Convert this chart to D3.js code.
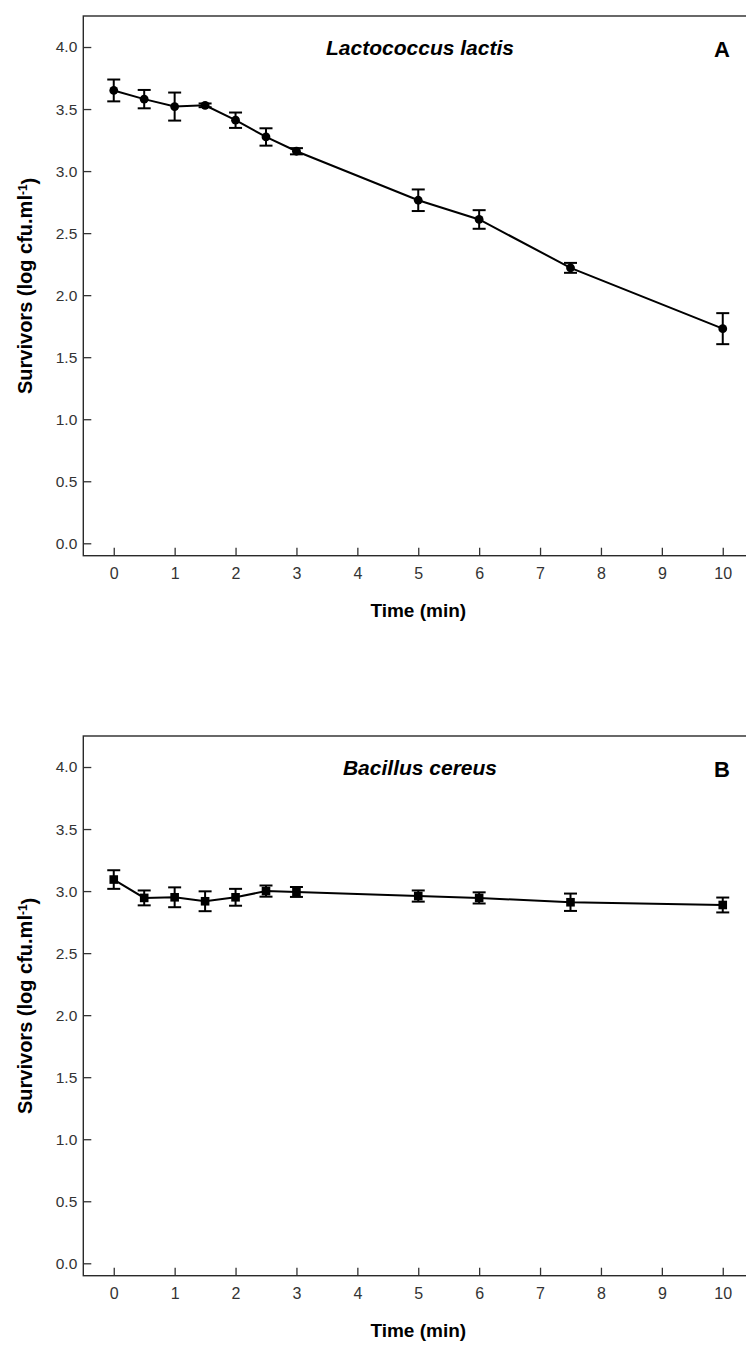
<!DOCTYPE html>
<html><head><meta charset="utf-8">
<script src="https://cdn.jsdelivr.net/npm/d3@7"></script>
<style>body{margin:0;background:#fff} svg{display:block} text{font-family:Arial,"Liberation Sans",sans-serif}</style>
</head><body><svg id="c" width="746" height="1349"></svg>
<script>
// ---- data ----
const times = [0, 0.5, 1, 1.5, 2, 2.5, 3, 5, 6, 7.5, 10];
const survivorsA = [3.65, 3.58, 3.52, 3.53, 3.41, 3.275, 3.16, 2.765, 2.61, 2.22, 1.73];
const errorsA    = [0.088, 0.074, 0.113, 0.015, 0.062, 0.07, 0.025, 0.087, 0.075, 0.04, 0.125];
const survivorsB = [3.093, 2.945, 2.95, 2.918, 2.95, 3.0, 2.993, 2.96, 2.945, 2.91, 2.888];
const errorsB    = [0.075, 0.06, 0.08, 0.08, 0.068, 0.045, 0.04, 0.045, 0.045, 0.07, 0.06];
const xTicks = [0, 1, 2, 3, 4, 5, 6, 7, 8, 9, 10];
const yTicks = [0, 0.5, 1.0, 1.5, 2.0, 2.5, 3.0, 3.5, 4.0];
const panelTitles = ["Lactococcus lactis", "Bacillus cereus"];
const panelLetters = ["A", "B"];
const xTitle = "Time (min)";

const svg = d3.select("#c");
const L = 83.3, R = 753.2, T = 16, B = 555.7;
const x = d3.scaleLinear().domain([-0.5, 10.5]).range([L, R]);
const y = d3.scaleLinear().domain([-0.1, 4.25]).range([B, T]);

function panel(offset, vals, errs, marker, title, letter) {
  const g = svg.append("g").attr("transform", `translate(0,${offset})`);
  // axes
  const ya = g.append("g").attr("transform", `translate(${L},0)`)
    .call(d3.axisLeft(y).tickValues(yTicks).tickFormat(d3.format(".1f")).tickSizeInner(-8).tickSizeOuter(0).tickPadding(6));
  const xa = g.append("g").attr("transform", `translate(0,${B})`)
    .call(d3.axisBottom(x).tickValues(xTicks).tickFormat(d3.format("d")).tickSizeInner(-8).tickSizeOuter(0).tickPadding(12));
  [ya, xa].forEach(a => {
    a.select(".domain").remove();
    a.selectAll(".tick line").attr("stroke", "#333").attr("stroke-width", 1.3);
    a.selectAll(".tick text").attr("fill", "#333").style("font-family", "Arial, 'Liberation Sans', sans-serif");
  });
  ya.selectAll(".tick text").style("font-size", "15.5px");
  xa.selectAll(".tick text").style("font-size", "16px");
  // frame
  g.append("rect").attr("x", L).attr("y", T).attr("width", R - L).attr("height", B - T)
    .attr("fill", "none").attr("stroke", "#2a2a2a").attr("stroke-width", 1.4);
  // axis titles
  g.append("text").attr("x", x(5)).attr("y", 617).attr("text-anchor", "middle")
    .style("font-size", "19px").style("font-weight", "bold").text(xTitle);
  const yt = g.append("text").attr("transform", `translate(32,${(T + B) / 2}) rotate(-90)`)
    .attr("text-anchor", "middle").style("font-size", "20px").style("font-weight", "bold");
  yt.append("tspan").text("Survivors (log cfu.ml");
  yt.append("tspan").attr("dy", "-0.45em").style("font-size", "12px").text("-1");
  yt.append("tspan").attr("dy", "0.45em").text(")");
  // panel title and letter
  g.append("text").attr("x", 420).attr("y", 55).attr("text-anchor", "middle")
    .style("font-size", "21px").style("font-weight", "bold").style("font-style", "italic").text(title);
  g.append("text").attr("x", 722).attr("y", 57).attr("text-anchor", "middle")
    .style("font-size", "22px").style("font-weight", "bold").text(letter);
  // data
  const pts = times.map((t, i) => ({t, v: vals[i], e: errs[i]}));
  g.append("path").datum(pts).attr("fill", "none").attr("stroke", "#000").attr("stroke-width", 2)
    .attr("d", d3.line().x(d => x(d.t)).y(d => y(d.v)));
  const eb = g.append("g").attr("stroke", "#000").attr("stroke-width", 2);
  eb.selectAll("line.v").data(pts).join("line").attr("class", "v")
    .attr("x1", d => x(d.t)).attr("x2", d => x(d.t)).attr("y1", d => y(d.v - d.e)).attr("y2", d => y(d.v + d.e));
  eb.selectAll("line.t").data(pts).join("line").attr("class", "t")
    .attr("x1", d => x(d.t) - 6.5).attr("x2", d => x(d.t) + 6.5).attr("y1", d => y(d.v + d.e)).attr("y2", d => y(d.v + d.e));
  eb.selectAll("line.b").data(pts).join("line").attr("class", "b")
    .attr("x1", d => x(d.t) - 6.5).attr("x2", d => x(d.t) + 6.5).attr("y1", d => y(d.v - d.e)).attr("y2", d => y(d.v - d.e));
  if (marker === "circle") {
    g.selectAll("circle.m").data(pts).join("circle").attr("class", "m")
      .attr("cx", d => x(d.t)).attr("cy", d => y(d.v)).attr("r", 4.4).attr("fill", "#000");
  } else {
    g.selectAll("rect.m").data(pts).join("rect").attr("class", "m")
      .attr("x", d => x(d.t) - 4.3).attr("y", d => y(d.v) - 4.3).attr("width", 8.6).attr("height", 8.6).attr("fill", "#000");
  }
}
panel(0, survivorsA, errorsA, "circle", panelTitles[0], panelLetters[0]);
panel(720, survivorsB, errorsB, "square", panelTitles[1], panelLetters[1]);
</script></body></html>
